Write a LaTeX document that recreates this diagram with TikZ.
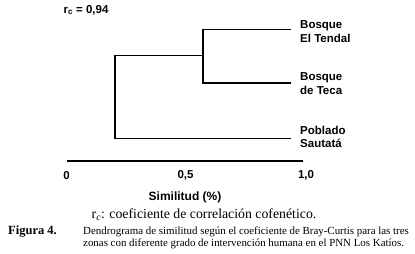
\documentclass[tikz,border=0pt]{standalone}
\usepackage{fontspec}
\setmainfont{Liberation Serif}
\setsansfont{Liberation Sans}
\begin{document}
\begin{tikzpicture}[x=1pt, y=-1pt, every node/.style={font=\sffamily\bfseries\fontsize{11.5}{13.4}\selectfont, inner sep=0pt}]
  \tikzstyle{leaf}=[anchor=west,align=left]
  \tikzstyle{branch}=[line width=1.1pt]
  \useasboundingbox (0,0) rectangle (415,254);
  % leaves and merges
  \coordinate (e1) at (291,29.3);
  \coordinate (e2) at (291,83);
  \coordinate (e3) at (291,138.5);
  \coordinate (m1) at (203,55.5);
  \coordinate (m2) at (115,97);
  \node[leaf] (tendal) at (300,31.5) {Bosque\\El Tendal};
  \node[leaf] (teca) at (300,83.5) {Bosque\\de Teca};
  \node[leaf] (poblado) at (300,137) {Poblado\\Sautat\'a};
  \draw[branch] (e1) -| (m1) |- (e2);
  \draw[branch] (m1) -| (m2) |- (e3);
  \node (rc) at (86,10) {r\textsubscript{c} = 0,94};
  % axis
  \coordinate (ax0) at (66.7,160.8);
  \coordinate (ax1) at (303,160.8);
  \draw[line width=1.7pt] (ax0) -- (ax1);
  \node (t0) at (66.5,175.5) {0};
  \node (t5) at (185.5,175.5) {0,5};
  \node (t10) at (306,175.5) {1,0};
  \node[font=\sffamily\bfseries\fontsize{12}{14}\selectfont] (xlab) at (185,197) {Similitud (\%)};
  % caption
  \node[font=\rmfamily\fontsize{13.8}{16}\selectfont] (note) at (204,215) {r\textsubscript{\textit{c}}: coeficiente de correlaci\'on cofen\'etico.};
  \node[font=\rmfamily\bfseries\fontsize{12.5}{14}\selectfont, anchor=base west] (fig) at (8,234.5) {Figura 4.};
  \node[font=\rmfamily\fontsize{10.9}{12.3}\selectfont, anchor=west, align=left] (cap) at (83,237.5) {Dendrograma de similitud seg\'un el coeficiente de Bray-Curtis para las tres\\zonas con diferente grado de intervenci\'on humana en el PNN Los Kat\'ios.};
\end{tikzpicture}
\end{document}
